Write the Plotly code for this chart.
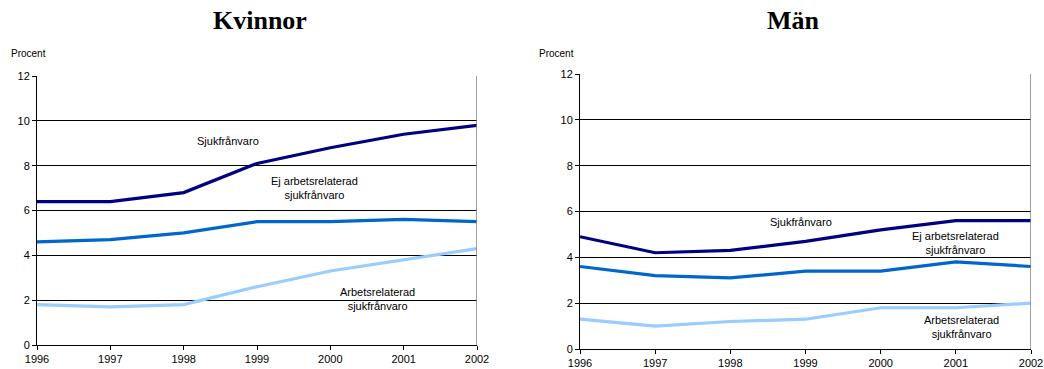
import plotly.graph_objects as go

# Sick-leave share (percent), 1996-2002
years = [1996, 1997, 1998, 1999, 2000, 2001, 2002]

kvinnor_sjuk = [6.4, 6.4, 6.8, 8.1, 8.8, 9.4, 9.8]
kvinnor_ej_arbets = [4.6, 4.7, 5.0, 5.5, 5.5, 5.6, 5.5]
kvinnor_arbets = [1.8, 1.7, 1.8, 2.6, 3.3, 3.8, 4.3]

man_sjuk = [4.9, 4.2, 4.3, 4.7, 5.2, 5.6, 5.6]
man_ej_arbets = [3.6, 3.2, 3.1, 3.4, 3.4, 3.8, 3.6]
man_arbets = [1.3, 1.0, 1.2, 1.3, 1.8, 1.8, 2.0]

y_ticks = [0, 2, 4, 6, 8, 10, 12]

C_SJUK = "#000080"
C_EJ = "#0066CC"
C_ARB = "#99CCFF"
FONT = "Liberation Sans, Arial, sans-serif"

fig = go.Figure()

series = [
    ("x", "y", kvinnor_arbets, C_ARB),
    ("x", "y", kvinnor_ej_arbets, C_EJ),
    ("x", "y", kvinnor_sjuk, C_SJUK),
    ("x2", "y2", man_arbets, C_ARB),
    ("x2", "y2", man_ej_arbets, C_EJ),
    ("x2", "y2", man_sjuk, C_SJUK),
]
for xa, ya, vals, col in series:
    fig.add_trace(go.Scatter(
        x=years, y=vals, xaxis=xa, yaxis=ya, mode="lines",
        line=dict(color=col, width=3.2), showlegend=False, hoverinfo="skip",
    ))

common_x = dict(
    range=[1996, 2002], tickmode="array", tickvals=years,
    ticktext=[str(v) for v in years], ticks="outside", ticklen=4,
    tickcolor="#000", showline=True, linecolor="#000", linewidth=1,
    showgrid=False, zeroline=False, automargin=False,
    tickfont=dict(family=FONT, size=11, color="#000"), fixedrange=True,
)
common_y = dict(
    range=[0, 12], tickmode="array", tickvals=y_ticks,
    ticks="outside", ticklen=4, tickcolor="#000", showline=True,
    linecolor="#000", linewidth=1, showgrid=True, gridcolor="#000",
    gridwidth=1, zeroline=False, automargin=False,
    tickfont=dict(family=FONT, size=11, color="#000"), fixedrange=True,
)

fig.update_layout(
    width=1044, height=369,
    margin=dict(l=0, r=0, t=0, b=0, autoexpand=False),
    paper_bgcolor="white", plot_bgcolor="white",
    xaxis=dict(common_x, domain=[37 / 1044, 477 / 1044], anchor="y"),
    yaxis=dict(common_y, domain=[1 - 345 / 369, 1 - 76 / 369], anchor="x"),
    xaxis2=dict(common_x, domain=[580 / 1044, 1031 / 1044], anchor="y2"),
    yaxis2=dict(common_y, domain=[1 - 349 / 369, 1 - 74 / 369], anchor="x2"),
)

# right-hand plot border in grey
for xa, ya in [("x", "y"), ("x2", "y2")]:
    fig.add_shape(type="line", xref=xa, yref=ya, x0=2002, x1=2002, y0=0, y1=12,
                  line=dict(color="#808080", width=1.5))

txt = dict(family=FONT, size=11, color="#000")
labels = [
    ("x", "y", 1998.6, 9.1, "Sjukfrånvaro"),
    ("x", "y", 1999.78, 7.0, "Ej arbetsrelaterad<br>sjukfrånvaro"),
    ("x", "y", 2000.64, 2.05, "Arbetsrelaterad<br>sjukfrånvaro"),
    ("x2", "y2", 1998.94, 5.54, "Sjukfrånvaro"),
    ("x2", "y2", 2001.0, 4.62, "Ej arbetsrelaterad<br>sjukfrånvaro"),
    ("x2", "y2", 2001.08, 0.96, "Arbetsrelaterad<br>sjukfrånvaro"),
]
for xa, ya, x, y, t in labels:
    fig.add_annotation(xref=xa, yref=ya, x=x, y=y, text=t, showarrow=False,
                       font=txt, align="center", xanchor="center", yanchor="middle")

# panel titles
title_font = dict(family="Liberation Serif, Times New Roman, serif", size=26, color="#000")
fig.add_annotation(xref="paper", yref="paper", x=260 / 1044, y=1 - 21 / 369,
                   text="<b>Kvinnor</b>", showarrow=False, font=title_font,
                   xanchor="center", yanchor="middle")
fig.add_annotation(xref="paper", yref="paper", x=793 / 1044, y=1 - 21 / 369,
                   text="<b>Män</b>", showarrow=False, font=title_font,
                   xanchor="center", yanchor="middle")

# axis unit labels
unit_font = dict(family=FONT, size=10, color="#000")
fig.add_annotation(xref="paper", yref="paper", x=9 / 1044, y=1 - 53 / 369,
                   text="Procent", showarrow=False, font=unit_font,
                   xanchor="left", yanchor="middle")
fig.add_annotation(xref="paper", yref="paper", x=537 / 1044, y=1 - 53 / 369,
                   text="Procent", showarrow=False, font=unit_font,
                   xanchor="left", yanchor="middle")

fig.write_html("out.html")
